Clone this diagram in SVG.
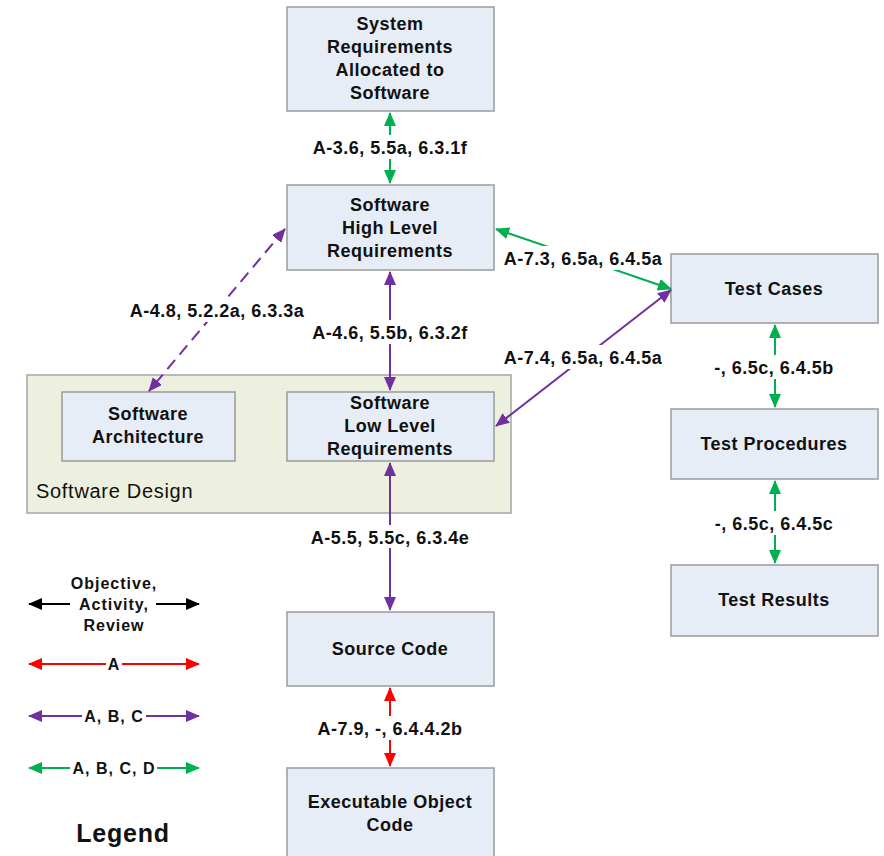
<svg xmlns="http://www.w3.org/2000/svg" width="884" height="856" viewBox="0 0 884 856">
<defs>
<style>
.box{fill:#e7edf7;stroke:#9a9a9a;stroke-width:1.5}
.cont{fill:#edf0de;stroke:#a5a5a5;stroke-width:1.5}
.nt{font-family:"Liberation Sans",Arial,sans-serif;font-weight:bold;font-size:18px;letter-spacing:0.5px;fill:#111;text-anchor:middle}
.lb{font-family:"Liberation Sans",Arial,sans-serif;font-weight:bold;font-size:18px;letter-spacing:0.5px;fill:#111;text-anchor:middle}
.lg{font-family:"Liberation Sans",Arial,sans-serif;font-weight:bold;font-size:16px;letter-spacing:1px;fill:#111;text-anchor:middle}
.bg{fill:#fff}
.g{stroke:#00b050;stroke-width:2;fill:none}
.p{stroke:#7030a0;stroke-width:2;fill:none}
.r{stroke:#ff0000;stroke-width:2;fill:none}
.k{stroke:#000;stroke-width:2;fill:none}
</style>
<marker id="mg" viewBox="0 0 14 12" refX="13" refY="6" markerWidth="14" markerHeight="12" markerUnits="userSpaceOnUse" orient="auto-start-reverse"><path d="M0,0 L14,6 L0,12 z" fill="#00b050"/></marker>
<marker id="mp" viewBox="0 0 14 12" refX="13" refY="6" markerWidth="14" markerHeight="12" markerUnits="userSpaceOnUse" orient="auto-start-reverse"><path d="M0,0 L14,6 L0,12 z" fill="#7030a0"/></marker>
<marker id="mr" viewBox="0 0 14 12" refX="13" refY="6" markerWidth="14" markerHeight="12" markerUnits="userSpaceOnUse" orient="auto-start-reverse"><path d="M0,0 L14,6 L0,12 z" fill="#ff0000"/></marker>
<marker id="mk" viewBox="0 0 14 12" refX="13" refY="6" markerWidth="14" markerHeight="12" markerUnits="userSpaceOnUse" orient="auto-start-reverse"><path d="M0,0 L14,6 L0,12 z" fill="#000"/></marker>
</defs>
<rect width="884" height="856" fill="#fff"/>

<g id="software-design">
<rect class="cont" x="27" y="375" width="484" height="138"/>
<text x="36" y="498" font-family="'Liberation Sans',Arial,sans-serif" font-size="20" letter-spacing="0.7" fill="#111">Software Design</text>
</g>

<g id="sys-req">
<rect class="box" x="287" y="7" width="207" height="104"/>
<text class="nt"><tspan x="390" y="30">System</tspan><tspan x="390" y="53">Requirements</tspan><tspan x="390" y="76">Allocated to</tspan><tspan x="390" y="99">Software</tspan></text>
</g>
<g id="hlr">
<rect class="box" x="287" y="185" width="207" height="85"/>
<text class="nt"><tspan x="390" y="211">Software</tspan><tspan x="390" y="234">High Level</tspan><tspan x="390" y="257">Requirements</tspan></text>
</g>
<g id="arch">
<rect class="box" x="62" y="392" width="173" height="69"/>
<text class="nt"><tspan x="148" y="420">Software</tspan><tspan x="148" y="443">Architecture</tspan></text>
</g>
<g id="llr">
<rect class="box" x="287" y="392" width="207" height="69"/>
<text class="nt"><tspan x="390" y="409">Software</tspan><tspan x="390" y="432">Low Level</tspan><tspan x="390" y="455">Requirements</tspan></text>
</g>
<g id="source">
<rect class="box" x="287" y="612" width="207" height="74"/>
<text class="nt" x="390" y="655">Source Code</text>
</g>
<g id="exec">
<rect class="box" x="287" y="768" width="207" height="100"/>
<text class="nt"><tspan x="390" y="808">Executable Object</tspan><tspan x="390" y="831">Code</tspan></text>
</g>
<g id="test-cases">
<rect class="box" x="671" y="254" width="207" height="69"/>
<text class="nt" x="774" y="295">Test Cases</text>
</g>
<g id="test-procedures">
<rect class="box" x="671" y="409" width="207" height="70"/>
<text class="nt" x="774" y="450">Test Procedures</text>
</g>
<g id="test-results">
<rect class="box" x="671" y="565" width="207" height="71"/>
<text class="nt" x="774" y="606">Test Results</text>
</g>

<g id="connectors">
<line class="g" x1="390" y1="113" x2="390" y2="183" marker-start="url(#mg)" marker-end="url(#mg)"/>
<line class="p" x1="390" y1="272" x2="390" y2="390" marker-start="url(#mp)" marker-end="url(#mp)"/>
<line class="p" x1="390" y1="463" x2="390" y2="610" marker-start="url(#mp)" marker-end="url(#mp)"/>
<line class="r" x1="390" y1="688" x2="390" y2="766" marker-start="url(#mr)" marker-end="url(#mr)"/>
<line class="g" x1="775" y1="325" x2="775" y2="407" marker-start="url(#mg)" marker-end="url(#mg)"/>
<line class="g" x1="775" y1="481" x2="775" y2="563" marker-start="url(#mg)" marker-end="url(#mg)"/>
<line class="g" x1="496" y1="229" x2="671" y2="289" marker-start="url(#mg)" marker-end="url(#mg)"/>
<line class="p" x1="496" y1="426" x2="671" y2="290" marker-start="url(#mp)" marker-end="url(#mp)"/>
<line class="p" x1="285" y1="229" x2="149" y2="391" stroke-dasharray="12,7" marker-start="url(#mp)" marker-end="url(#mp)"/>

<rect class="bg" x="309" y="135" width="162" height="24"/>
<text class="lb" x="390" y="153.5">A-3.6, 5.5a, 6.3.1f</text>
<rect class="bg" x="309" y="320" width="162" height="24"/>
<text class="lb" x="390" y="338.5">A-4.6, 5.5b, 6.3.2f</text>
<rect class="bg" x="128" y="298" width="180" height="24"/>
<text class="lb" x="217" y="316.5">A-4.8, 5.2.2a, 6.3.3a</text>
<rect class="bg" x="500" y="246" width="166" height="24"/>
<text class="lb" x="583" y="264.5">A-7.3, 6.5a, 6.4.5a</text>
<rect class="bg" x="500" y="345" width="166" height="24"/>
<text class="lb" x="583" y="363.5">A-7.4, 6.5a, 6.4.5a</text>
<rect class="bg" x="309" y="525" width="162" height="23"/>
<text class="lb" x="390" y="543.5">A-5.5, 5.5c, 6.3.4e</text>
<rect class="bg" x="314" y="716" width="152" height="24"/>
<text class="lb" x="390" y="734.5">A-7.9, -, 6.4.4.2b</text>
<rect class="bg" x="712" y="355" width="124" height="24"/>
<text class="lb" x="774" y="373.5">-, 6.5c, 6.4.5b</text>
<rect class="bg" x="712" y="511" width="124" height="24"/>
<text class="lb" x="774" y="529.5">-, 6.5c, 6.4.5c</text>
</g>

<g id="legend">
<line class="k" x1="70" y1="604" x2="29" y2="604" marker-end="url(#mk)"/>
<line class="k" x1="156" y1="604" x2="199" y2="604" marker-end="url(#mk)"/>
<text class="lg"><tspan x="114" y="589">Objective,</tspan><tspan x="114" y="610">Activity,</tspan><tspan x="114" y="631">Review</tspan></text>
<line class="r" x1="106" y1="664" x2="29" y2="664" marker-end="url(#mr)"/>
<line class="r" x1="122" y1="664" x2="199" y2="664" marker-end="url(#mr)"/>
<text class="lg" x="114" y="670">A</text>
<line class="p" x1="82" y1="716" x2="29" y2="716" marker-end="url(#mp)"/>
<line class="p" x1="146" y1="716" x2="199" y2="716" marker-end="url(#mp)"/>
<text class="lg" x="114" y="722">A, B, C</text>
<line class="g" x1="70" y1="768" x2="29" y2="768" marker-end="url(#mg)"/>
<line class="g" x1="157" y1="768" x2="199" y2="768" marker-end="url(#mg)"/>
<text class="lg" x="114" y="774">A, B, C, D</text>
<text x="123" y="842" font-family="'Liberation Sans',Arial,sans-serif" font-weight="bold" font-size="25" letter-spacing="0.8" fill="#111" text-anchor="middle">Legend</text>
</g>
</svg>
